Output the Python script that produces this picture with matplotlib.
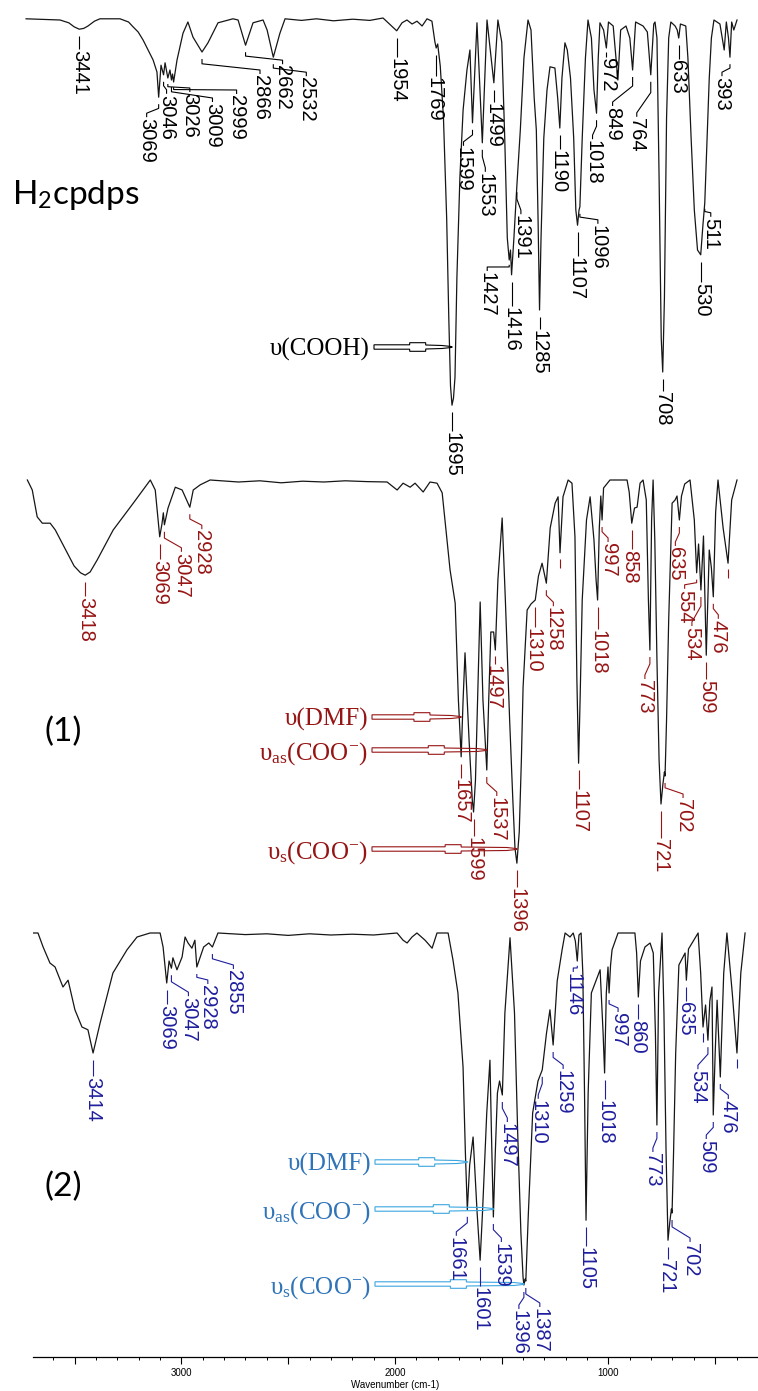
import numpy as np
import matplotlib
matplotlib.use("Agg")
import matplotlib.pyplot as plt
from matplotlib.lines import Line2D
from matplotlib.patches import Polygon
from matplotlib.ticker import FixedLocator, MultipleLocator, FuncFormatter

plt.rcParams['mathtext.fontset'] = 'custom'
plt.rcParams['mathtext.rm'] = 'Liberation Serif'
plt.rcParams['mathtext.it'] = 'Liberation Serif:italic'
plt.rcParams['mathtext.bf'] = 'Liberation Serif:bold'
plt.rcParams['mathtext.sf'] = 'Lato'

# ---------------- spectra: wavenumber (cm-1) and transmittance (%) ----------------
ligand_wn = [3690, 3531, 3490, 3465, 3441, 3420, 3400, 3370, 3344, 3250, 3210, 3189, 3165,
             3142, 3095, 3077, 3069, 3058,
             3046, 3039, 3026, 3016, 3009, 3004, 2999, 2983, 2955, 2932, 2908, 2866, 2838,
             2791, 2721, 2697, 2662, 2627, 2580, 2561, 2532, 2501, 2477, 2400, 2330, 2250,
             2160, 2080, 2018, 1954, 1929, 1906, 1882, 1859, 1835, 1812, 1789, 1775, 1769,
             1762, 1750, 1735, 1720, 1710, 1702, 1695, 1688, 1681, 1672, 1658, 1643, 1625,
             1611, 1599, 1578, 1553, 1531, 1499, 1480, 1462, 1448, 1436, 1427, 1421, 1416,
             1405, 1391, 1375, 1358, 1339, 1325, 1310, 1300, 1292, 1285, 1278, 1265, 1250,
             1236, 1213, 1200, 1190, 1180, 1166, 1155, 1140, 1125, 1115, 1107, 1100, 1096,
             1085, 1070, 1058, 1042, 1030, 1018, 1010, 1002, 985, 972, 962, 940, 918, 905,
             880, 862, 849, 835, 800, 780, 764, 750, 744, 735, 725, 715, 708, 700, 690, 680,
             670, 650, 640, 633, 625, 600, 590, 575, 560, 545, 530, 520, 511, 500, 490, 480,
             468, 440, 420, 410, 400, 393, 385, 375, 360]
ligand_t = [99.8, 99.5, 98.8, 97.8, 97.2, 97.4, 98.0, 99.2, 99.8, 99.8, 99.0, 97.8, 96.5,
            94.5, 89.5, 86.5, 80.2, 88.2,
            85.8, 88.8, 85.0, 87.0, 84.5, 86.0, 84.0, 89.5, 96.2, 99.0, 95.2, 91.5, 93.8,
            98.8, 99.8, 99.5, 93.2, 98.8, 99.5, 97.0, 90.2, 96.2, 99.8, 99.4, 99.8, 99.3,
            99.7, 99.4, 100.0, 96.8, 98.8, 99.5, 98.5, 99.2, 98.0, 99.8, 99.2, 94.0, 92.5,
            93.5, 88.0, 75.0, 50.0, 25.0, 8.0, 3.2, 5.0, 10.2, 35.2, 60.2, 77.0, 87.0,
            92.0, 73.8, 98.8, 68.8, 99.5, 83.8, 99.5, 94.0, 70.0, 45.0, 39.5, 42.0, 35.8,
            45.0, 58.2, 72.0, 90.0, 99.5, 97.0, 80.0, 72.0, 50.0, 27.0, 45.0, 70.0, 82.0,
            87.8, 87.5, 80.0, 72.5, 85.0, 93.8, 92.0, 85.0, 70.0, 52.0, 48.2, 52.0, 52.8,
            70.0, 90.0, 99.5, 95.0, 82.0, 76.2, 90.0, 98.8, 97.0, 92.5, 99.0, 98.0, 84.5, 97.0,
            98.0, 95.0, 87.0, 99.0, 98.0, 96.5, 85.8, 98.5, 99.0, 95.0, 60.0, 20.0, 11.5, 30.0, 75.0, 95.0,
            99.0, 98.0, 97.0, 95.0, 98.5, 98.0, 90.0, 70.0, 52.0, 42.0, 40.8, 48.0, 53.8, 70.0, 85.0, 95.0,
            99.5, 98.5, 92.0, 99.0, 95.0, 90.2, 99.0, 97.0, 99.5]

c1_wn = [3689, 3666, 3643, 3619, 3582, 3558, 3502, 3470, 3440, 3418, 3395, 3362, 3287, 3193,
         3113, 3090, 3069,
         3058, 3052, 3047, 3030, 2996, 2964, 2928, 2912, 2879, 2833, 2700, 2600, 2500, 2400,
         2300, 2200, 2100, 2004, 1957, 1929, 1896, 1873, 1835, 1803, 1770, 1746, 1709, 1685,
         1670, 1657, 1648, 1639, 1620, 1605, 1599, 1590, 1575, 1568, 1555, 1537, 1528, 1518,
         1505, 1497, 1485, 1465, 1450, 1430, 1415, 1405, 1396, 1385, 1375, 1367, 1348, 1330,
         1310, 1295, 1278, 1258, 1240, 1217, 1203, 1194, 1180, 1156, 1138, 1124, 1115, 1107,
         1100, 1090, 1070, 1053, 1035, 1025, 1018, 1010, 1003, 997, 990, 960, 880, 870, 858,
         845, 833, 819, 805, 790, 780, 773, 765, 758, 750, 740, 730, 721, 712, 705, 702, 695,
         685, 669, 655, 646, 635, 625, 610, 585, 565, 554, 545, 534, 522, 509, 495, 485, 476,
         465, 454, 430, 407, 390, 365]
c1_t = [100.0, 97.5, 90.8, 89.2, 89.2, 87.5, 81.8, 78.5, 76.8, 76.2, 77.0, 80.0, 87.5, 94.2,
        100.0, 97.5, 85.8,
        89.2, 91.8, 88.8, 93.0, 98.2, 97.5, 93.2, 97.5, 98.8, 100.0, 99.5, 99.8, 99.3, 99.7,
        99.5, 99.8, 99.6, 99.5, 97.5, 99.2, 98.2, 99.2, 97.0, 99.5, 99.2, 96.8, 77.5, 69.2,
        45.0, 30.8, 45.0, 56.8, 35.0, 20.0, 17.0, 25.0, 55.0, 69.5, 45.0, 27.5, 45.0, 62.0,
        62.0, 57.5, 75.0, 90.5, 70.0, 40.0, 20.0, 8.0, 4.2, 12.0, 30.0, 48.2, 67.5, 69.0,
        70.0, 76.0, 79.2, 74.2, 88.0, 94.2, 95.8, 81.8, 95.8, 100.0, 99.2, 85.8, 50.0, 29.2,
        45.0, 70.0, 90.0, 95.8, 85.0, 75.0, 70.0, 88.0, 96.0, 90.0, 98.0, 100.0, 100.0, 97.0, 89.2,
        93.0, 93.2, 99.2, 100.0, 95.0, 70.0, 57.5, 90.0, 100.0, 85.0, 55.0, 30.0, 19.0, 24.0, 27.0, 26.0, 40.0,
        65.0, 94.2, 95.0, 96.0, 90.0, 96.0, 99.0, 100.0, 90.0, 76.8, 84.0, 72.5, 86.0, 56.2, 82.5, 78.0, 70.8,
        92.0, 100.0, 88.0, 79.2, 95.0, 100.0]

c2_wn = [3695, 3672, 3648, 3616, 3592, 3555, 3531, 3499, 3466, 3438, 3414, 3381, 3321, 3255,
         3208, 3147, 3100, 3086, 3069, 3058, 3047, 3040, 3021, 2997, 2983, 2969, 2951, 2937,
         2928, 2896, 2872, 2855, 2829, 2700, 2600, 2500, 2400, 2300, 2200, 2100, 1990, 1962,
         1943, 1920, 1897, 1859, 1826, 1803, 1751, 1728, 1705, 1681, 1670, 1661, 1650, 1634,
         1615, 1601, 1590, 1570, 1555, 1548, 1539, 1530, 1520, 1510, 1497, 1485, 1461, 1440,
         1425, 1410, 1400, 1396, 1390, 1387, 1375, 1355, 1330, 1310, 1290, 1274, 1259, 1240,
         1217, 1203, 1180, 1165, 1155, 1146, 1138, 1128, 1120, 1112, 1105, 1095, 1080, 1039,
         1025, 1018, 1010, 1002, 997, 990, 983, 955, 876, 868, 860, 850, 829, 805, 790, 780,
         773, 765, 749, 740, 730, 721, 712, 705, 702, 695, 685, 670, 641, 635, 625, 580, 568,
         557, 545, 534, 525, 515, 509, 500, 491, 476, 460, 445, 420, 398, 380, 360]
c2_t = [100.0, 100.0, 96.5, 92.5, 91.5, 86.5, 88.2, 80.8, 76.5, 75.8, 70.0, 77.5, 90.0, 95.8,
        99.0, 100.0, 100.0, 96.5, 87.5, 93.0, 91.2, 93.8, 90.8, 94.0, 99.0, 97.5, 96.2, 98.2,
        91.5, 96.5, 97.5, 96.5, 100.0, 99.6, 99.8, 99.4, 99.8, 99.5, 99.7, 99.5, 100.0, 98.2,
        97.5, 99.0, 100.0, 98.2, 96.2, 100.0, 100.0, 93.2, 85.0, 66.5, 45.0, 30.8, 42.0, 49.0,
        30.0, 18.2, 30.0, 55.0, 68.2, 50.0, 29.0, 45.0, 60.0, 63.0, 59.5, 80.0, 98.8, 80.0,
        50.0, 25.0, 14.0, 12.0, 13.5, 13.0, 30.0, 55.0, 63.0, 65.8, 75.0, 80.8, 72.0, 88.0,
        95.8, 100.0, 99.0, 100.0, 98.0, 93.0, 99.5, 100.0, 90.0, 60.0, 28.2, 60.0, 85.0, 90.8,
        75.0, 65.0, 85.0, 91.5, 85.0, 92.0, 95.8, 100.0, 100.0, 95.0, 84.0, 93.0, 96.5, 97.5, 95.0, 75.0,
        52.0, 85.0, 100.0, 80.0, 45.0, 23.2, 28.0, 31.0, 30.0, 45.0, 70.0, 92.0, 95.0, 88.2, 96.0, 100.0, 90.0,
        76.5, 82.0, 73.2, 83.0, 86.5, 54.5, 70.0, 83.2, 64.0, 90.0, 100.0, 85.0, 70.0, 90.0, 100.0]

# ---------------- labelled band positions (cm-1) ----------------
ligand_peaks = [3441, 3069, 3046, 3026, 3009, 2999, 2866, 2662, 2532, 1954, 1769, 1695, 1599,
                1553, 1499, 1427, 1416, 1391, 1285, 1190, 1107, 1096, 1018, 972, 849, 764, 708,
                633, 530, 511, 393]
c1_peaks = [3418, 3069, 3047, 2928, 1657, 1599, 1537, 1497, 1396, 1310, 1258, 1107, 1018, 997,
            858, 773, 721, 702, 635, 554, 534, 509, 476]
c1_marks = [1194, 407]
c2_peaks = [3414, 3069, 3047, 2928, 2855, 1661, 1601, 1539, 1497, 1396, 1387, 1310, 1259, 1146,
            1105, 1018, 997, 860, 773, 721, 702, 635, 534, 509, 476]
c2_marks = [557, 398]

# assignment arrows: (text, band)
ligand_assign = [("υ(COOH)", 1695)]
c1_assign = [("υ(DMF)", 1657), ("υ$_{\\mathrm{as}}$(COO$^{\\mathrm{-}}$)", 1537),
             ("υ$_{\\mathrm{s}}$(COO$^{\\mathrm{-}}$)", 1396)]
c2_assign = [("υ(DMF)", 1661), ("υ$_{\\mathrm{as}}$(COO$^{\\mathrm{-}}$)", 1539),
             ("υ$_{\\mathrm{s}}$(COO$^{\\mathrm{-}}$)", 1396)]

# ---------------- layout (pixels) ----------------
W, H = 758, 1391
PX_WN = 4.684      # cm-1 per pixel
PX_T = 4.0         # pixels per % transmittance

# label offsets: value -> (horizontal shift, drop below band)
ligand_layout = {3441: (0, 21), 3069: (-12, 21), 3046: (3, 20), 3026: (22, 15), 3009: (41, 23),
                 2999: (63, 13), 2866: (58, 23), 2662: (37, 20), 2532: (33, 20), 1954: (0, 27),
                 1769: (-2, 29), 1695: (0, 27), 1599: (-9, 24), 1553: (3, 30), 1499: (-1, 20),
                 1427: (-22, 12), 1416: (-1, 32), 1391: (4, 30), 1285: (-1, 20), 1190: (-2, 22),
                 1107: (-2, 32), 1096: (18, 18), 1018: (-4, 27), 972: (1, 10), 849: (-20, 37),
                 764: (-14, 43), 708: (0, 20), 633: (-1, 22), 530: (1, 28), 511: (6, 15),
                 393: (-8, 20)}
c1_layout = {3418: (0, 22), 3069: (0, 23), 3047: (17, 28), 2928: (12, 23), 1657: (0, 22),
             1599: (0, 25), 1537: (10, 27), 1497: (-2, 15), 1396: (0, 25), 1310: (-2, 28),
             1258: (7, 24), 1107: (0, 27), 1018: (0, 30), 997: (6, 23), 858: (-2, 27),
             773: (-5, 30), 721: (0, 35), 702: (18, 23), 635: (-4, 27), 554: (-12, 17),
             534: (-9, 37), 509: (0, 25), 476: (5, 23)}
c2_layout = {3414: (0, 24), 3069: (0, 22), 3047: (17, 29), 2928: (11, 18), 2855: (21, 23),
             1661: (-11, 27), 1601: (0, 27), 1539: (8, 26), 1497: (5, 28), 1396: (-5, 25),
             1387: (14, 27), 1310: (-4, 30), 1259: (10, 25), 1146: (-4, 12), 1105: (0, 27),
             1018: (0, 27), 997: (9, 20), 860: (-1, 23), 773: (-4, 28), 721: (-2, 20),
             702: (18, 30), 635: (-1, 22), 534: (-10, 30), 509: (-7, 25), 476: (8, 23)}

LABEL_FONT = ['Liberation Sans Narrow', 'Liberation Sans', 'DejaVu Sans']
SERIF = ['Liberation Serif', 'DejaVu Serif']
RED = '#961414'
NAVY = '#1e1e9e'
BLUE_TXT = '#2f74b8'
BLUE_ARR = '#3aa6e0'

fig = plt.figure(figsize=(W / 100, H / 100), dpi=100)


def fx(x):
    return x / W


def fy(y):
    return 1 - y / H


def panel(left, right, top, bottom, anchor_wn, anchor_x, base_y):
    ax = fig.add_axes([left / W, 1 - bottom / H, (right - left) / W, (bottom - top) / H])
    ax.set_xlim(anchor_wn + (anchor_x - left) * PX_WN, anchor_wn - (right - anchor_x) * PX_WN)
    ax.set_ylim(100 - (bottom - base_y) / PX_T, 100 - (top - base_y) / PX_T)
    ax.patch.set_alpha(0)
    return ax


def to_px(ax, w, t):
    X, Y = ax.transData.transform((w, t))
    return X, H - Y


def seg(xs, ys, color, lw=0.8):
    fig.add_artist(Line2D([fx(v) for v in xs], [fy(v) for v in ys], color=color, lw=lw,
                          transform=fig.transFigure, solid_capstyle='butt'))


def label_peaks(ax, wn, tr, peaks, layout, color, marks=()):
    wr = np.asarray(wn, float)[::-1]
    trr = np.asarray(tr, float)[::-1]
    for p in peaks:
        px, py = to_px(ax, p, np.interp(p, wr, trr))
        dx, drop = layout[p]
        top = py + drop
        gap = min(7.0, 0.4 * drop)
        if abs(dx) < 3:
            seg([px, px], [py + gap, top - 1], color)
        else:
            k = py + gap + 0.3 * (drop - gap)
            seg([px, px, px + dx, px + dx], [py + gap, k, top - 5, top - 1], color)
        fig.text(fx(px + dx), fy(top), str(p), rotation=-90, ha='center', va='top',
                 fontsize=14.5, family=LABEL_FONT, color=color)
    for m in marks:
        px, py = to_px(ax, m, np.interp(m, wr, trr))
        seg([px, px], [py + 6, py + 15], color)


def assign_arrow(ax, text, band, y, text_color, arrow_color, tx=368):
    tip, _ = to_px(ax, band, 50)
    fig.text(fx(tx), fy(y), text, ha='right', va='center_baseline', fontsize=18,
             family=SERIF, color=text_color)
    x0 = tx + 4
    L = tip - x0
    bc = x0 + 0.56 * L
    b0, b1 = bc - 8, bc + 8
    pts = [(x0, y - 2.2), (b0, y - 2.2), (b0, y - 4.3), (b1, y - 4.3), (b1, y - 2.0),
           (tip - 10, y - 1.5), (tip, y - 0.4), (tip, y + 0.4), (tip - 10, y + 1.5),
           (b1, y + 2.0), (b1, y + 4.3), (b0, y + 4.3), (b0, y + 2.2), (x0, y + 2.2)]
    fig.add_artist(Polygon([(fx(a), fy(b)) for a, b in pts], closed=True, facecolor='none',
                           edgecolor=arrow_color, lw=0.8, transform=fig.transFigure))


# ---------------- panels ----------------
ax1 = panel(20, 758, 0, 470, 1695, 452, 18)
ax2 = panel(20, 758, 440, 935, 721, 661, 480)
ax3 = panel(33, 758, 890, 1357, 721, 668, 933)

for ax, wn, tr in ((ax1, ligand_wn, ligand_t), (ax2, c1_wn, c1_t), (ax3, c2_wn, c2_t)):
    ax.plot(wn, tr, color='#161616', lw=0.9, solid_joinstyle='round')

ax1.axis('off')
ax2.axis('off')
for s in ('top', 'left', 'right'):
    ax3.spines[s].set_visible(False)
ax3.spines['bottom'].set_linewidth(0.9)
ax3.set_yticks([])
ax3.xaxis.set_major_locator(FixedLocator([500, 1000, 1500, 2000, 2500, 3000, 3500]))
ax3.xaxis.set_minor_locator(MultipleLocator(100))
ax3.xaxis.set_major_formatter(FuncFormatter(lambda v, pos: f"{int(v)}" if v % 1000 == 0 else ""))
ax3.tick_params(axis='x', which='major', direction='out', length=5, width=0.8, pad=3,
                labelsize=7)
ax3.tick_params(axis='x', which='minor', direction='out', length=2.5, width=0.7)
for lab in ax3.get_xticklabels():
    lab.set_family(LABEL_FONT)
ax3.set_xlabel('Wavenumber (cm-1)', fontsize=7, family=LABEL_FONT, labelpad=1)

# ---------------- peak labels ----------------
label_peaks(ax1, ligand_wn, ligand_t, ligand_peaks, ligand_layout, 'black')
label_peaks(ax2, c1_wn, c1_t, c1_peaks, c1_layout, RED, c1_marks)
label_peaks(ax3, c2_wn, c2_t, c2_peaks, c2_layout, NAVY, c2_marks)

# ---------------- band assignments ----------------
assign_arrow(ax1, ligand_assign[0][0], ligand_assign[0][1], 347, 'black', 'black', tx=370)
for (txt, band), y in zip(c1_assign, (717, 750, 849)):
    assign_arrow(ax2, txt, band, y, RED, RED)
for (txt, band), y in zip(c2_assign, (1162, 1209, 1284)):
    assign_arrow(ax3, txt, band, y, BLUE_TXT, BLUE_ARR, tx=371)

# ---------------- sample names ----------------
fig.text(fx(12), fy(204), 'H$_\\mathsf{2}$cpdps', fontsize=24, family='Lato', va='baseline')
fig.text(fx(45), fy(741), '(1)', fontsize=24, family='Lato', va='baseline')
fig.text(fx(45), fy(1196), '(2)', fontsize=24, family='Lato', va='baseline')

fig.savefig('out.png', dpi=100)
